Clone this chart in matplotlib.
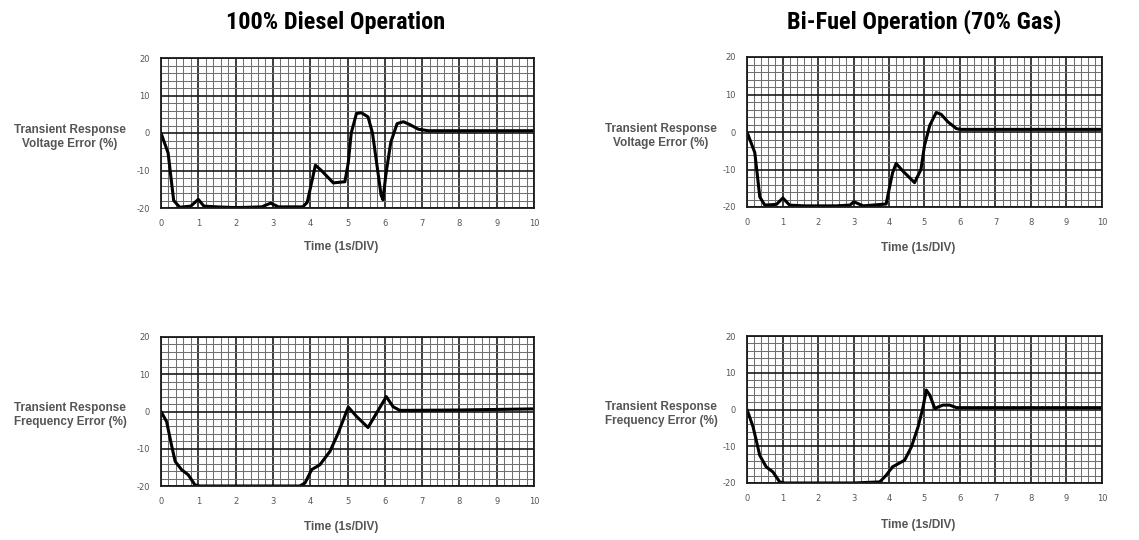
import matplotlib
matplotlib.use("Agg")
import matplotlib.pyplot as plt
from matplotlib import font_manager
from matplotlib.ticker import MultipleLocator

W, H = 1139, 540
plt.rcParams["axes.unicode_minus"] = False

# time (s) and error (%)
diesel_v_t = [0, 0.19, 0.34, 0.5, 0.8, 1.0, 1.15, 1.5, 2.0, 2.7, 2.94, 3.15, 3.8, 3.92, 4.02, 4.14, 4.3,
              4.62, 4.93, 5.02, 5.1, 5.24, 5.37, 5.55, 5.67, 5.9, 5.95, 6.03, 6.16, 6.33, 6.5, 6.68, 6.9,
              7.17, 10]
diesel_v_y = [0, -5.3, -18, -19.8, -19.5, -17.7, -19.5, -19.7, -19.9, -19.7, -18.7, -19.7, -19.7, -18.5,
              -14, -8.6, -10, -13.3, -13, -8, 0, 5.2, 5.4, 4.3, 0, -16.5, -17.8, -11, -2.5, 2.5, 3,
              2.2, 1, 0.6, 0.6]

bifuel_v_t = [0, 0.22, 0.36, 0.5, 0.83, 1.01, 1.2, 1.6, 2.5, 2.9, 3.01, 3.27, 3.92, 4.02, 4.1, 4.2, 4.4,
              4.72, 4.9, 5.0, 5.15, 5.33, 5.47, 5.66, 5.9, 6.0, 10]
bifuel_v_y = [0, -5.5, -17.3, -19.5, -19.3, -17.6, -19.5, -19.7, -19.7, -19.5, -18.6, -19.7, -19.2, -14.5,
              -10.9, -8.4, -10.5, -13.5, -10, -3.6, 1.8, 5.2, 4.7, 2.7, 0.9, 0.7, 0.7]

diesel_f_t = [0, 0.15, 0.29, 0.38, 0.55, 0.73, 0.91, 1.04, 2.0, 3.0, 3.72, 3.86, 4.04, 4.26, 4.53, 4.75,
              5.02, 5.24, 5.55, 5.78, 6.04, 6.22, 6.4, 8.0, 10]
diesel_f_y = [0, -2.7, -9.4, -13.4, -15.6, -17, -19.7, -20, -20, -20, -20, -19.2, -15.6, -14.3, -10.7,
              -5.8, 1.2, -1.3, -4.3, -0.4, 4, 1.3, 0.3, 0.4, 0.7]

bifuel_f_t = [0, 0.17, 0.36, 0.54, 0.73, 0.92, 1.06, 2.0, 3.0, 3.74, 3.92, 4.1, 4.44, 4.63, 4.82, 4.96,
              5.05, 5.15, 5.29, 5.52, 5.71, 5.9, 10]
bifuel_f_y = [0, -4.7, -12.5, -15.6, -17, -19.7, -20, -20, -20, -19.7, -17.9, -15.6, -13.8, -10.2, -4.7,
              0.7, 5.3, 3.9, 0.3, 1.2, 1.2, 0.5, 0.5]

titles = ["100% Diesel Operation", "Bi-Fuel Operation (70% Gas)"]
ylabels = ["Transient Response\nVoltage Error (%)", "Transient Response\nFrequency Error (%)"]
xlabel = "Time (1s/DIV)"
xticks = list(range(0, 11))
yticks = [-20, -10, 0, 10, 20]

# panel boxes in pixels: left, right, top, bottom
panels = [
    (diesel_v_t, diesel_v_y, (161, 534, 58, 208), ylabels[0], (70, 137), 247),
    (bifuel_v_t, bifuel_v_y, (747, 1102, 57, 207), ylabels[0], (661, 136), 248),
    (diesel_f_t, diesel_f_y, (161, 534, 337, 486), ylabels[1], (70, 415), 527),
    (bifuel_f_t, bifuel_f_y, (747, 1102, 336, 483), ylabels[1], (661, 414), 525),
]

# pick a narrow bold face for the titles if one is installed
installed = {(f.name, f.stretch) for f in font_manager.fontManager.ttflist}
names = {f.name for f in font_manager.fontManager.ttflist}
title_kw = dict(family=["Liberation Sans", "DejaVu Sans"], fontsize=15)
for cand in ["Liberation Sans Narrow", "Roboto Condensed", "Noto Sans Condensed", "Open Sans Condensed",
             "Arial Narrow"]:
    if cand in names:
        title_kw = dict(family=[cand, "DejaVu Sans"], fontsize=17.5)
        break
else:
    for fam in ["Noto Sans", "DejaVu Sans", "Roboto", "Open Sans"]:
        if any(n == fam and s in ("condensed", "semi-condensed", "extra-condensed", 75, 62.5, 87.5)
               for n, s in installed):
            title_kw = dict(family=[fam], fontstretch="condensed", fontsize=17.5)
            break

fig = plt.figure(figsize=(W / 100, H / 100), dpi=100)
fig.patch.set_facecolor("white")

label_font = ["Liberation Sans", "DejaVu Sans"]

for t, y, (l, r, top, bot), ylab, (lx, ly), xly in panels:
    ax = fig.add_axes([l / W, 1 - bot / H, (r - l) / W, (bot - top) / H])
    ax.set_xlim(0, 10)
    ax.set_ylim(-20, 20)
    ax.xaxis.set_major_locator(MultipleLocator(1))
    ax.yaxis.set_major_locator(MultipleLocator(10))
    ax.xaxis.set_minor_locator(MultipleLocator(0.2))
    ax.yaxis.set_minor_locator(MultipleLocator(2))
    ax.grid(which="major", color="#1a1a1a", linewidth=1.2)
    ax.grid(which="minor", color="#707070", linewidth=0.75)
    ax.set_axisbelow(True)
    for s in ax.spines.values():
        s.set_color("#1a1a1a")
        s.set_linewidth(1.3)
    ax.tick_params(which="both", length=0, pad=8, labelsize=6, labelcolor="#555555")
    ax.set_xticks(xticks)
    ax.set_yticks(yticks)
    ax.plot(t, y, color="black", linewidth=2.2, solid_joinstyle="round", solid_capstyle="round")

    fig.text(lx / W, 1 - ly / H, ylab, ha="center", va="center", fontsize=8.5, fontweight="bold",
             color="#555555", family=label_font, linespacing=1.2)
    fig.text(((l + r) / 2 - 6) / W, 1 - xly / H, xlabel, ha="center", va="center", fontsize=8.5,
             fontweight="bold", color="#555555", family=label_font)

fig.text(336 / W, 1 - 22 / H, titles[0], ha="center", va="center", fontweight="bold",
         color="black", **title_kw)
fig.text(924 / W, 1 - 22 / H, titles[1], ha="center", va="center", fontweight="bold",
         color="black", **title_kw)

fig.savefig("out.png", dpi=100, facecolor="white")
